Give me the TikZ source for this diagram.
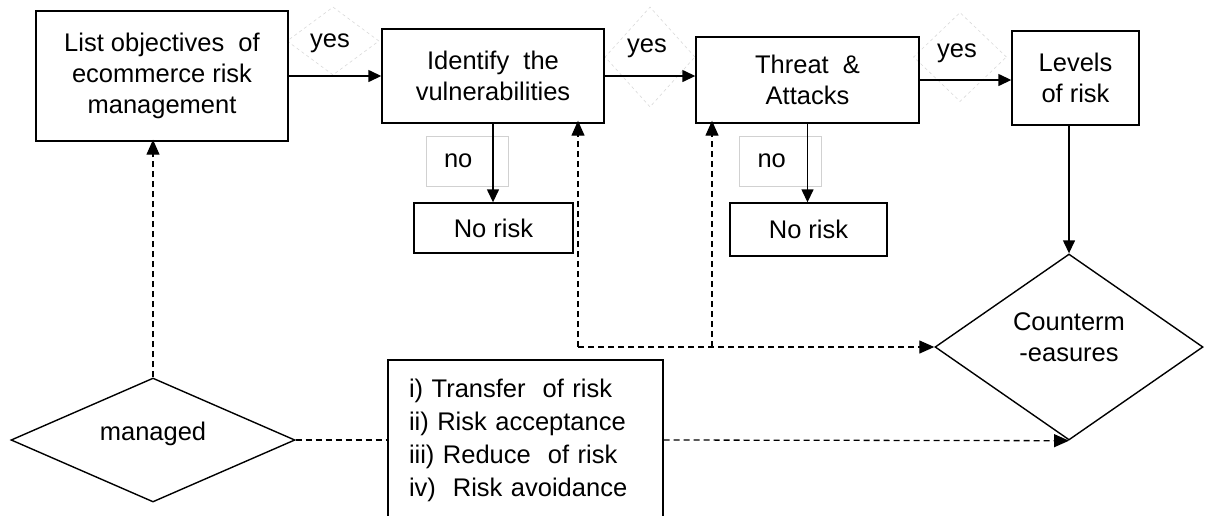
\documentclass[tikz,border=0pt]{standalone}
\usepackage{fontspec}
\setmainfont{Liberation Sans}
\usetikzlibrary{shapes.geometric,arrows.meta}

\begin{document}
\begin{tikzpicture}[x=1pt,y=1pt,yscale=-1,
  every node/.style={font=\fontsize{25.5}{31}\selectfont},
  box/.style={draw, line width=1.4pt, align=center, inner sep=0pt},
  dec/.style={draw, diamond, line width=1.4pt, align=center, inner sep=0pt},
  faint/.style={draw=black!15, diamond, dashed, line width=0.6pt, inner sep=0pt},
  nobox/.style={draw=black!18, line width=0.6pt, align=left, inner xsep=18pt, text width=46pt, minimum height=50pt},
  arr/.style={line width=1.4pt, -{Triangle[length=13pt,width=12pt]}},
  darr/.style={line width=1.3pt, dash pattern=on 6pt off 4pt, -{Triangle[length=15pt,width=13pt]}}
]
\useasboundingbox (0,0) rectangle (1206,515);
\clip (0,0) rectangle (1206,515);

%Shape: faint decision diamonds
\node [faint, minimum width=92, minimum height=68] (d1) at (333,41) {};
\node [faint, minimum width=90, minimum height=100] (d2) at (650,57) {};
\node [faint, minimum width=93, minimum height=89] (d3) at (960,57) {};

%Shape: Rectangle
\node [box, minimum width=252, minimum height=130] (obj) at (162,76) {List objectives \ of\\ecommerce risk\\management};
%Shape: Rectangle
\node [box, minimum width=222, minimum height=94] (vul) at (493,76) {Identify \ the\\vulnerabilities};
%Shape: Rectangle
\node [box, minimum width=223, minimum height=86] (thr) at (807.5,80) {Threat \ \&\\Attacks};
%Shape: Rectangle
\node [box, minimum width=127, minimum height=94] (lvl) at (1075.5,78) {Levels\\of risk};
%Shape: Rectangle
\node [box, minimum width=159, minimum height=50] (nr1) at (493.5,228) {No risk};
%Shape: Rectangle
\node [box, minimum width=157, minimum height=53] (nr2) at (808.5,229.5) {No risk};
%Shape: Diamond
\node [dec, minimum width=268, minimum height=186,
  label={[align=center, yshift=10]center:Counterm\\-easures}] (cm) at (1069,347) {};
%Shape: Diamond
\node [dec, minimum width=284, minimum height=124,
  label={[yshift=6]center:managed}] (mgd) at (153,440) {};
%Shape: Rectangle
\node [box, align=left, text width=233, inner xsep=21, minimum height=160, font=\fontsize{25.5}{33}\selectfont] (opt) at (525.5,440) {i) Transfer \ of risk\\ii) Risk acceptance\\iii) Reduce \ of risk\\iv) \ Risk avoidance};

% Text Node
\node (yes1) at (330,43) {yes};
% Text Node
\node (yes2) at (647,48) {yes};
% Text Node
\node (yes3) at (957,53) {yes};
% Text Node
\node [nobox] (no1) at (467,161) {no};
% Text Node
\node [nobox] (no2) at (780.5,161) {no};

%Straight Lines
\draw [arr] (obj) -- (vul);
\draw [arr] (vul.east) -- (vul.east -| thr.west);
\draw [arr] (thr.east) -- (thr.east -| lvl.west);
\draw [arr] (vul.south) -- (vul.south |- nr1.north);
\draw [arr] (thr.south) -- (thr.south |- nr2.north);
\draw [arr] (cm.north |- lvl.south) -- (cm.north);

%Dashed Lines
\coordinate (c1) at (578,347);
\coordinate (c2) at (712,347);
\draw [darr] (c1) -- (cm.west);
\draw [darr] (c1) -- ([yshift=-3]c1 |- vul.south);
\draw [darr] (c2) -- ([yshift=-3]c2 |- thr.south);
\draw [darr] (mgd.north) -- ([yshift=-2]mgd.north |- obj.south);
\draw [darr, -] (mgd.east) -- (mgd.east -| opt.west);
\draw [darr] (opt.east) -- (cm.south);

\end{tikzpicture}
\end{document}
